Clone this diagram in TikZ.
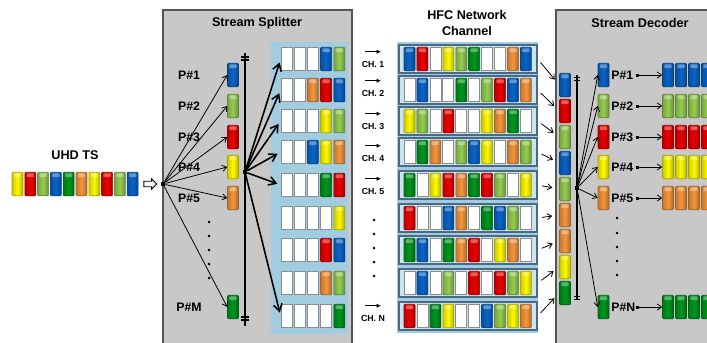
\documentclass[tikz,border=0pt]{standalone}
\usepackage{fontspec}
\setmainfont{Liberation Sans}
\usetikzlibrary{arrows.meta,shapes.arrows}

\definecolor{pkblue}{RGB}{10,100,200}
\definecolor{pkred}{RGB}{235,0,0}
\definecolor{pklgreen}{RGB}{150,205,80}
\definecolor{pkgreen}{RGB}{0,150,30}
\definecolor{pkyellow}{RGB}{255,250,0}
\definecolor{pkorange}{RGB}{245,150,60}
\definecolor{boxgray}{RGB}{200,200,200}
\definecolor{boxedge}{RGB}{85,85,85}
\definecolor{bufblue}{RGB}{162,205,224}
\definecolor{rowedge}{RGB}{75,105,130}

\tikzset{
    pkt/.style={draw=#1!65!black, line width=0.3pt, rounded corners=0.5pt,
        left color=#1!80!black, right color=#1!70!black, middle color=#1,
        minimum width=0.22cm, minimum height=0.47cm, inner sep=0pt,
        path picture={\fill[white,opacity=0.35]
            ([xshift=1pt,yshift=-0.6pt]path picture bounding box.north west) rectangle
            ([xshift=-1pt,yshift=-2.8pt]path picture bounding box.north east);}},
    pk-w/.style={draw=black!45, fill=white, line width=0.4pt,
        minimum width=0.22cm, minimum height=0.47cm, inner sep=0pt},
    pk-b/.style={pkt=pkblue},
    pk-r/.style={pkt=pkred},
    pk-l/.style={pkt=pklgreen},
    pk-g/.style={pkt=pkgreen},
    pk-y/.style={pkt=pkyellow},
    pk-o/.style={pkt=pkorange},
    frame/.style={draw=boxedge, fill=boxgray, line width=0.8pt},
    chrow/.style={draw=rowedge, fill=bufblue!55!white, line width=0.8pt,
        minimum width=2.76cm, minimum height=0.56cm, inner sep=0pt},
    title/.style={font=\bfseries\fontsize{7.2}{9}\selectfont, align=center},
    plabel/.style={font=\bfseries\fontsize{7}{8}\selectfont, inner sep=0pt},
    chlabel/.style={font=\bfseries\fontsize{5}{6}\selectfont, inner sep=0pt},
    hub/.style={fill=black, minimum size=0.08cm, inner sep=0pt},
    sq/.style={fill=black, minimum size=0.06cm, inner sep=0pt},
    thin arr/.style={-{Straight Barb[length=2.5pt,width=3.5pt]}, line width=0.45pt},
    thick arr/.style={-{Straight Barb[length=4pt,width=5pt]}, line width=0.9pt},
    ch arr/.style={-{Latex[length=2.5pt,width=2.5pt]}, line width=0.7pt}
}

\begin{document}
\begin{tikzpicture}[x=0.02cm, y=-0.02cm]
\useasboundingbox (0,0) rectangle (707,342);
\clip (0,0) rectangle (707,342);

% incoming UHD transport stream
\node [title] (uhd) at (75,155) {UHD TS};
\foreach \c [count=\k] in {y,r,l,b,g,o,y,r,l,b}
    \node [pk-\c] (in\k) at ({17.5+12.8*(\k-1)},184) {};
\node [single arrow, draw, fill=white, line width=0.5pt, inner sep=1.3pt,
    single arrow head extend=1.4pt, minimum height=0.26cm] (feed) at (149,184) {};

% stream splitter
\draw [frame] (163,10) rectangle (352,360);
\node [title] (split) at (257,23) {Stream Splitter};
\node [hub] (sin) at (163,184) {};
\foreach \c/\n/\yy in {b/1/75, l/2/106, r/3/137, y/4/167, o/5/198, g/M/307} {
    \node [pk-\c] (sp\n) at (233,\yy) {};
    \node [plabel] (spl\n) at (189,\yy) {P\#\n};
    \draw [thin arr] (sin) -- (sp\n.west);
}
\foreach \yy in {222,236,250,264,278}
    \fill (209,\yy) circle (0.85pt);

\coordinate (bartop) at (245,53);
\coordinate (barbot) at (245,326);
\draw [line width=1.1pt] (bartop) -- (barbot);
\foreach \t in {57,60,317,320}
    \draw [line width=0.6pt] (241,\t) -- (249,\t);
\node [hub] (bar) at (245,172) {};

\fill [bufblue] (271,42) rectangle (348,334);
\foreach \yy/\slots [count=\r] in {59/{w,w,w,b,l}, 90/{w,w,o,r,b}, 121/{w,w,w,y,l},
        152/{w,w,b,y,o}, 185/{w,w,w,g,r}, 218/{w,w,w,w,y}, 250/{w,w,w,r,b},
        283/{w,w,w,o,l}, 316/{w,w,w,w,g}} {
    \foreach \c [count=\k] in \slots
        \node [pk-\c] (sb\r-\k) at ({286.5+13.2*(\k-1)},\yy) {};
}
\foreach \r in {1,...,5,9}
    \draw [thick arr, shorten >=2pt] (bar) -- (sb\r-1.west);

% channel labels
\foreach \n/\yy in {1/64, 2/93, 3/126, 4/158, 5/191, N/318} {
    \node [chlabel] (cl\n) at (373,\yy) {CH. \n};
    \draw [ch arr] ([xshift=-0.16cm,yshift=5pt]cl\n.north) -- ([xshift=0.16cm,yshift=5pt]cl\n.north);
}
\foreach \yy in {220,234,248,262,276}
    \fill (374,\yy) circle (0.85pt);

% HFC network channels
\node [title] (hfc) at (467,23) {HFC Network\\Channel};
\fill [bufblue] (397,42) rectangle (538,333);
\foreach \yy/\slots [count=\r] in {59/{b,r,w,y,l,g,w,w,o,b}, 90/{w,b,w,w,g,w,l,r,b,o},
        121/{y,l,w,r,w,w,y,o,g,w}, 152/{w,g,o,w,l,b,y,w,o,l},
        185/{g,w,y,r,o,g,r,l,w,y}, 218/{r,w,w,b,o,w,g,b,l,w},
        250/{g,b,w,g,o,r,w,y,o,w}, 283/{w,b,w,l,w,r,w,r,l,y},
        316/{r,w,g,y,w,w,b,l,y,o}} {
    \node [chrow] (ch\r) at (468,\yy) {};
    \foreach \c [count=\k] in \slots
        \node [pk-\c] (cs\r-\k) at ({409.5+12.94*(\k-1)},\yy) {};
}

% stream decoder
\draw [frame] (556,10) rectangle (760,360);
\node [title] (dec) at (640,23) {Stream Decoder};
\foreach \c [count=\k] in {b,r,l,b,l,o,o,y,g}
    \node [pk-\c] (dc\k) at (565,{85+26*(\k-1)}) {};
\foreach \r in {1,...,9}
    \draw [thin arr, shorten <=2.5pt, shorten >=4pt] (ch\r.east) -- (dc\r.west);

\coordinate (dtop) at (577,75);
\coordinate (dbot) at (577,300);
\draw [line width=0.6pt] (dtop) -- (dbot);
\foreach \t in {77,80,296,299}
    \draw [line width=0.5pt] (574,\t) -- (580,\t);
\node [hub] (dhub) at (577,188) {};

\foreach \c/\n/\yy in {b/1/75, l/2/106, r/3/137, y/4/167, o/5/198, g/N/307} {
    \node [pk-\c] (dp\n) at (603.5,\yy) {};
    \draw [thin arr] (dhub) -- (dp\n.west);
    \node [plabel, anchor=west] (dl\n) at (611,\yy) {P\#\n};
    \node [sq] (dq\n) at (637,\yy) {};
    \foreach \k in {1,...,4}
        \node [pk-\c] (do\n-\k) at ({668+13*(\k-1)},\yy) {};
    \draw [thin arr] (dq\n) -- (do\n-1.west);
}
\foreach \yy in {218,233,247,261,275}
    \fill (617,\yy) circle (0.85pt);
\end{tikzpicture}
\end{document}
